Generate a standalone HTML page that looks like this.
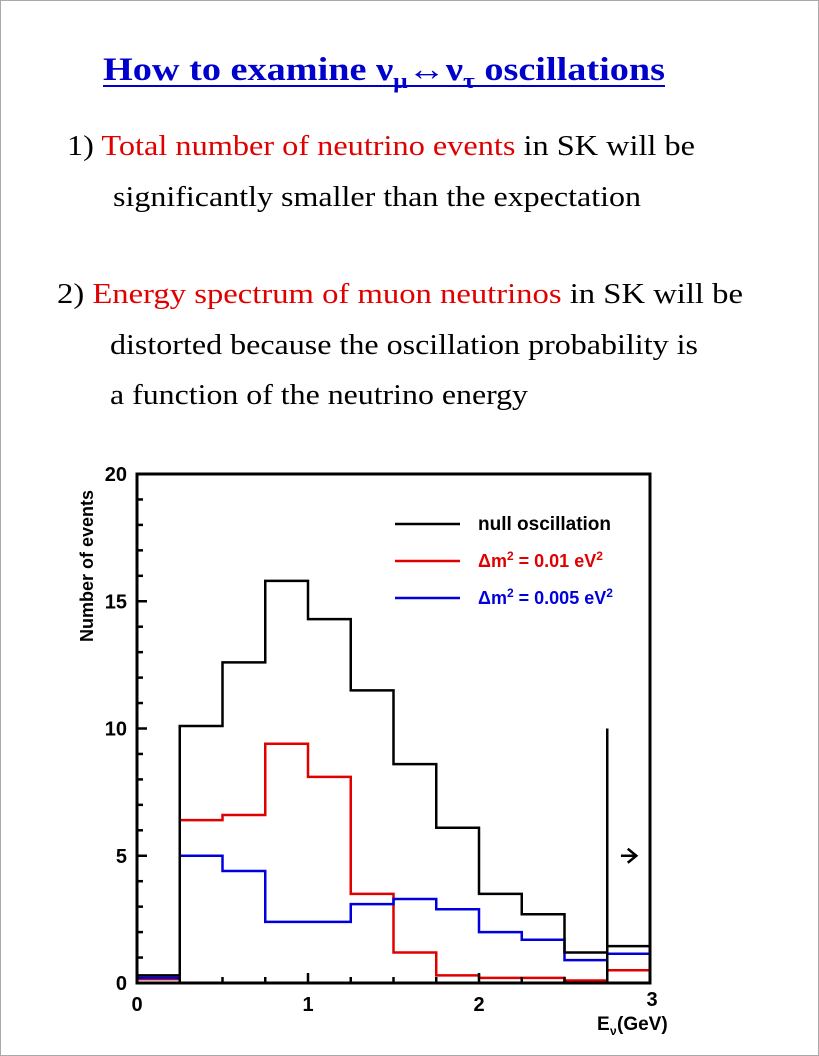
<!DOCTYPE html>
<html><head><meta charset="utf-8"><style>
html,body{margin:0;padding:0;background:#fff}
svg{display:block}
</style></head><body>
<svg id="s" width="819" height="1056" xmlns="http://www.w3.org/2000/svg">
<rect x="0.5" y="0.5" width="818" height="1055" fill="#fff" stroke="#aaa"/>
<g font-family="'Liberation Serif',serif">
<text x="103" y="80" font-size="33" font-weight="bold" fill="#0000cc" textLength="562" lengthAdjust="spacingAndGlyphs">How to examine ν<tspan font-size="22" dy="8">μ</tspan><tspan dy="-8">↔ν</tspan><tspan font-size="22" dy="8">τ</tspan><tspan dy="-8"> oscillations</tspan></text>
<line x1="103" y1="86" x2="665" y2="86" stroke="#0000cc" stroke-width="2"/>
<text x="67" y="155" font-size="28" textLength="628" lengthAdjust="spacingAndGlyphs">1) <tspan fill="#e00000">Total number of neutrino events</tspan> in SK will be</text>
<text x="113" y="206" font-size="28" textLength="528" lengthAdjust="spacingAndGlyphs">significantly smaller than the expectation</text>
<text x="57" y="303" font-size="28" textLength="686" lengthAdjust="spacingAndGlyphs">2) <tspan fill="#e00000">Energy spectrum of muon neutrinos</tspan> in SK will be</text>
<text x="110" y="354" font-size="28" textLength="588" lengthAdjust="spacingAndGlyphs">distorted because the oscillation probability is</text>
<text x="110" y="404" font-size="28" textLength="418" lengthAdjust="spacingAndGlyphs">a function of the neutrino energy</text>
</g>
<g id="plot" font-family="'Liberation Sans',sans-serif" font-weight="bold" font-size="20"></g>
</svg>
<script>
var X=function(e){return 137+171*e},Y=function(v){return 983-25.45*v};
var g=document.getElementById('plot'),ns='http://www.w3.org/2000/svg';
function el(t,a,txt){var e=document.createElementNS(ns,t);for(var k in a)e.setAttribute(k,a[k]);if(txt)e.textContent=txt;g.appendChild(e);return e;}
function hist(d,c){var p='M'+X(0)+' '+Y(d[0]);for(var i=0;i<d.length;i++){if(i>0)p+=' L'+X(i*0.25)+' '+Y(d[i]);p+=' L'+X((i+1)*0.25)+' '+Y(d[i]);}
el('path',{d:p,fill:'none',stroke:c,'stroke-width':2.5});}
hist([0.15,6.4,6.6,9.4,8.1,3.5,1.2,0.3,0.2,0.2,0.1,0.5],'#e00000');
hist([0.2,5.0,4.4,2.4,2.4,3.1,3.3,2.9,2.0,1.7,0.9,1.15],'#0000dd');
hist([0.3,10.1,12.6,15.8,14.3,11.5,8.6,6.1,3.5,2.7,1.2,1.45],'#000');
el('rect',{x:137,y:474,width:513,height:509,fill:'none',stroke:'#000','stroke-width':3});
for(var i=0;i<=12;i++){var x=X(i*0.25),L=(i%4==0)?10:6;el('line',{x1:x,y1:983,x2:x,y2:983-L,stroke:'#000','stroke-width':2.5});}
for(var v=0;v<=20;v++){var y=Y(v),L=(v%5==0)?10:6;el('line',{x1:137,y1:y,x2:137+L,y2:y,stroke:'#000','stroke-width':2.5});}
[0,5,10,15,20].forEach(function(v){el('text',{x:127,y:Y(v)+7,'text-anchor':'end'},String(v));});
[0,1,2,3].forEach(function(e){el('text',{x:X(e)-(e==3?-2:0),y:e==3?1006:1011,'text-anchor':'middle'},String(e));});
el('text',{x:597,y:1030,'font-size':19},'E');
el('text',{x:610,y:1035,'font-size':12},'ν');
el('text',{x:617,y:1030,'font-size':19},'(GeV)');
el('text',{x:93,y:566,'text-anchor':'middle','font-size':18,transform:'rotate(-90 93 566)'},'Number of events');
el('line',{x1:X(2.75),y1:Y(0),x2:X(2.75),y2:Y(10),stroke:'#000','stroke-width':2.5});
el('path',{d:'M'+X(2.83)+' '+Y(5)+' L'+X(2.92)+' '+Y(5)+' M'+X(2.87)+' '+(Y(5)-7)+' L'+X(2.92)+' '+Y(5)+' L'+X(2.87)+' '+(Y(5)+7),fill:'none',stroke:'#000','stroke-width':2.5});
[['#000',524],['#e00000',561],['#0000dd',598]].forEach(function(a){el('line',{x1:395,y1:a[1],x2:460,y2:a[1],stroke:a[0],'stroke-width':2.5});});
el('text',{x:478,y:530,'font-size':19},'null oscillation');
function dm(y,c,txt){var t=el('text',{x:478,y:y,fill:c,'font-size':18},'Δm');var s=document.createElementNS(ns,'tspan');s.setAttribute('dy','-7');s.setAttribute('font-size','12');s.textContent='2';t.appendChild(s);s=document.createElementNS(ns,'tspan');s.setAttribute('dy','7');s.textContent=txt;t.appendChild(s);s=document.createElementNS(ns,'tspan');s.setAttribute('dy','-7');s.setAttribute('font-size','12');s.textContent='2';t.appendChild(s);}
dm(567,'#e00000',' = 0.01  eV');
dm(604,'#0000dd',' = 0.005 eV');
</script>
</body></html>
